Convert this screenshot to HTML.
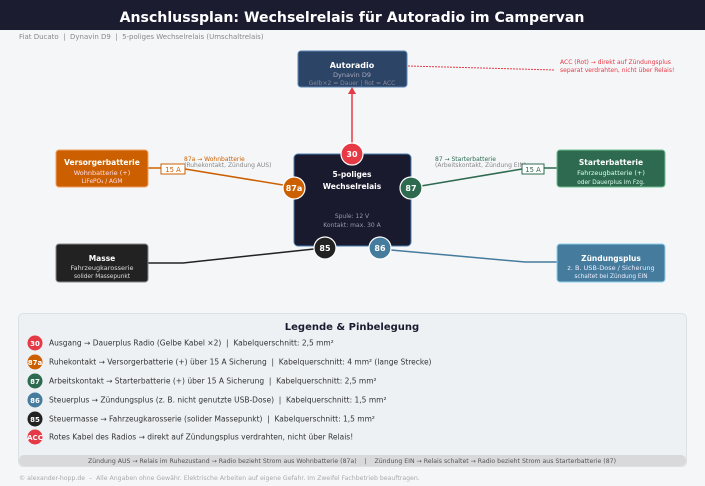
<!DOCTYPE html>
<html><head><meta charset="utf-8"><style>
html,body{margin:0;padding:0;background:#f5f6f8;}
svg{display:block;font-family:"DejaVu Sans","Liberation Sans",sans-serif;}
svg text{white-space:pre;}
</style></head><body>
<svg width="705" height="486" viewBox="0 0 705 486" xmlns="http://www.w3.org/2000/svg">
<rect width="705" height="486" fill="#f5f6f8"/>
<rect width="705" height="30" fill="#1b1c30"/>
<text x="352" y="22" text-anchor="middle" font-size="14.1" font-weight="bold" fill="#fff">Anschlussplan: Wechselrelais für Autoradio im Campervan</text>
<text x="19" y="39" font-size="7" fill="#888">Fiat Ducato  |  Dynavin D9  |  5-poliges Wechselrelais (Umschaltrelais)</text>

<line x1="408" y1="66" x2="555" y2="70" stroke="#e63946" stroke-width="1" stroke-dasharray="2,1"/>
<text x="560" y="64" font-size="6" fill="#e63946">ACC (Rot) → direkt auf Zündungsplus</text>
<text x="560" y="72" font-size="6" fill="#e63946">separat verdrahten, nicht über Relais!</text>
<line x1="352" y1="143" x2="352" y2="93" stroke="#e63946" stroke-width="1.5"/>
<polygon points="348,94 356,94 352,87" fill="#e63946"/>

<polyline points="148,168 161,168" stroke="#cc6000" stroke-width="1.5" fill="none"/>
<line x1="185" y1="169" x2="283" y2="185" stroke="#cc6000" stroke-width="1.5"/>
<rect x="161" y="164" width="24" height="10" fill="#fff" stroke="#cc6000" stroke-width="1"/>
<text x="173" y="172" text-anchor="middle" font-size="6.8" fill="#cc6000">15 A</text>
<text x="184" y="161" font-size="6" fill="#cc6000">87a → Wohnbatterie</text>
<text x="184" y="167" font-size="6" fill="#888">(Ruhekontakt, Zündung AUS)</text>

<line x1="421" y1="186" x2="522" y2="169" stroke="#2d6a4f" stroke-width="1.5"/>
<line x1="544" y1="168" x2="557" y2="168" stroke="#2d6a4f" stroke-width="1.5"/>
<text x="435" y="161" font-size="6" fill="#2d6a4f">87 → Starterbatterie</text>
<text x="435" y="167" font-size="6" fill="#888">(Arbeitskontakt, Zündung EIN)</text>
<rect x="522" y="164" width="22" height="10" fill="#fff" stroke="#2d6a4f" stroke-width="1"/>
<text x="533" y="172" text-anchor="middle" font-size="6.8" fill="#2d6a4f">15 A</text>

<polyline points="148,263 183,263 314,249" stroke="#222" stroke-width="1.5" fill="none"/>
<polyline points="391,250 525,262 557,262" stroke="#457b9d" stroke-width="1.5" fill="none"/>

<rect x="298" y="51" width="109" height="36" rx="3" fill="#2c4466" stroke="#5b86b5" stroke-width="1"/>
<text x="352" y="68" text-anchor="middle" font-size="8" font-weight="bold" fill="#fff">Autoradio</text>
<text x="352" y="77" text-anchor="middle" font-size="6.5" fill="#aab">Dynavin D9</text>
<text x="352" y="85" text-anchor="middle" font-size="6" fill="#889">Gelb×2 = Dauer | Rot = ACC</text>

<rect x="294" y="154" width="117" height="92" rx="4" fill="#1a1a2e" stroke="#4a7fb0" stroke-width="1"/>
<text x="352" y="177" text-anchor="middle" font-size="7.5" font-weight="bold" fill="#fff">5-poliges</text>
<text x="352" y="189" text-anchor="middle" font-size="7.5" font-weight="bold" fill="#fff">Wechselrelais</text>
<text x="352" y="218" text-anchor="middle" font-size="6" fill="#99a">Spule: 12 V</text>
<text x="352" y="227" text-anchor="middle" font-size="6" fill="#99a">Kontakt: max. 30 A</text>

<g font-size="8" font-weight="bold" fill="#fff" text-anchor="middle" stroke-width="1.2">
<circle cx="352" cy="154" r="11" fill="#e63946" stroke="#fff"/><text x="352" y="157" stroke="none">30</text>
<circle cx="294" cy="188" r="11" fill="#cc6000" stroke="#fff"/><text x="294" y="191" stroke="none">87a</text>
<circle cx="411" cy="188" r="11" fill="#2d6a4f" stroke="#fff"/><text x="411" y="191" stroke="none">87</text>
<circle cx="325" cy="248" r="11" fill="#222" stroke="#fff"/><text x="325" y="251" stroke="none">85</text>
<circle cx="380" cy="248" r="11" fill="#457b9d" stroke="#fff"/><text x="380" y="251" stroke="none">86</text>
</g>

<rect x="56" y="150" width="92" height="37" rx="3" fill="#cc6000" stroke="#f0a060" stroke-width="1"/>
<text x="102" y="165" text-anchor="middle" font-size="7.5" font-weight="bold" fill="#fff">Versorgerbatterie</text>
<text x="102" y="175" text-anchor="middle" font-size="6.5" fill="#fde">Wohnbatterie (+)</text>
<text x="102" y="183" text-anchor="middle" font-size="5.8" fill="#fde">LiFePO₄ / AGM</text>

<rect x="557" y="150" width="108" height="37" rx="3" fill="#2d6a4f" stroke="#6fbf8f" stroke-width="1"/>
<text x="611" y="165" text-anchor="middle" font-size="7.5" font-weight="bold" fill="#fff">Starterbatterie</text>
<text x="611" y="175" text-anchor="middle" font-size="6.5" fill="#dfe">Fahrzeugbatterie (+)</text>
<text x="611" y="184" text-anchor="middle" font-size="5.8" fill="#dfe">oder Dauerplus im Fzg.</text>

<rect x="56" y="244" width="92" height="38" rx="3" fill="#222" stroke="#888" stroke-width="1"/>
<text x="102" y="261" text-anchor="middle" font-size="7.5" font-weight="bold" fill="#fff">Masse</text>
<text x="102" y="270" text-anchor="middle" font-size="6.5" fill="#ddd">Fahrzeugkarosserie</text>
<text x="102" y="278" text-anchor="middle" font-size="5.8" fill="#ddd">solider Massepunkt</text>

<rect x="557" y="244" width="108" height="38" rx="3" fill="#457b9d" stroke="#8fd0ea" stroke-width="1"/>
<text x="611" y="261" text-anchor="middle" font-size="7.5" font-weight="bold" fill="#fff">Zündungsplus</text>
<text x="611" y="270" text-anchor="middle" font-size="6.5" fill="#eef">z. B. USB-Dose / Sicherung</text>
<text x="611" y="278" text-anchor="middle" font-size="5.8" fill="#eef">schaltet bei Zündung EIN</text>

<rect x="18.5" y="313.5" width="668" height="153" rx="5" fill="#eef1f4" stroke="#dde1e6"/>
<text x="352" y="330" text-anchor="middle" font-size="10" font-weight="bold" fill="#1b1c30">Legende &amp; Pinbelegung</text>
<g font-size="7.5" fill="#333">
<circle cx="35" cy="343" r="7.5" fill="#e63946"/><text x="35" y="346" text-anchor="middle" font-size="7" font-weight="bold" fill="#fff">30</text>
<text x="49" y="345.5">Ausgang → Dauerplus Radio (Gelbe Kabel ×2)  |  Kabelquerschnitt: 2,5 mm²</text>
<circle cx="35" cy="362" r="7.5" fill="#cc6000"/><text x="35" y="365" text-anchor="middle" font-size="7" font-weight="bold" fill="#fff">87a</text>
<text x="49" y="364.5">Ruhekontakt → Versorgerbatterie (+) über 15 A Sicherung  |  Kabelquerschnitt: 4 mm² (lange Strecke)</text>
<circle cx="35" cy="381" r="7.5" fill="#2d6a4f"/><text x="35" y="384" text-anchor="middle" font-size="7" font-weight="bold" fill="#fff">87</text>
<text x="49" y="383.5">Arbeitskontakt → Starterbatterie (+) über 15 A Sicherung  |  Kabelquerschnitt: 2,5 mm²</text>
<circle cx="35" cy="400" r="7.5" fill="#457b9d"/><text x="35" y="403" text-anchor="middle" font-size="7" font-weight="bold" fill="#fff">86</text>
<text x="49" y="402.5">Steuerplus → Zündungsplus (z. B. nicht genutzte USB-Dose)  |  Kabelquerschnitt: 1,5 mm²</text>
<circle cx="35" cy="419" r="7.5" fill="#222"/><text x="35" y="422" text-anchor="middle" font-size="7" font-weight="bold" fill="#fff">85</text>
<text x="49" y="421.5">Steuermasse → Fahrzeugkarosserie (solider Massepunkt)  |  Kabelquerschnitt: 1,5 mm²</text>
<circle cx="35" cy="437" r="7.5" fill="#e63946"/><text x="35" y="440" text-anchor="middle" font-size="7" font-weight="bold" fill="#fff">ACC</text>
<text x="49" y="439.5">Rotes Kabel des Radios → direkt auf Zündungsplus verdrahten, nicht über Relais!</text>
</g>
<rect x="19" y="455" width="667" height="11" rx="5" fill="#d9d9dc"/>
<text x="352" y="463" text-anchor="middle" font-size="6.2" fill="#555">Zündung AUS → Relais im Ruhezustand → Radio bezieht Strom aus Wohnbatterie (87a)    |    Zündung EIN → Relais schaltet → Radio bezieht Strom aus Starterbatterie (87)</text>
<text x="19" y="480" font-size="6.2" fill="#aaa">© alexander-hopp.de  –  Alle Angaben ohne Gewähr. Elektrische Arbeiten auf eigene Gefahr. Im Zweifel Fachbetrieb beauftragen.</text>
</svg>
</body></html>
